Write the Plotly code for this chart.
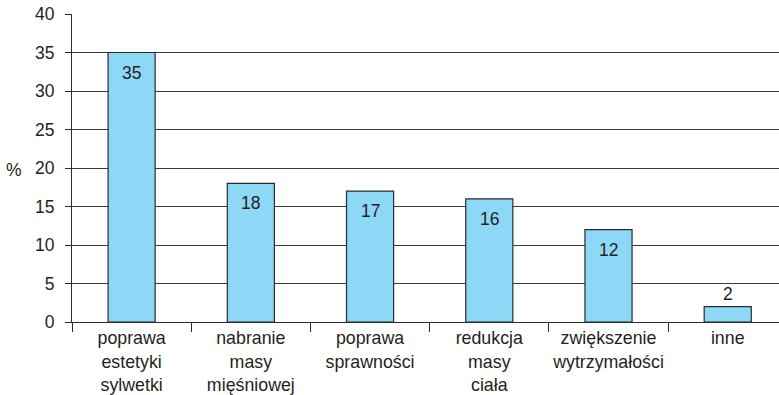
import plotly.graph_objects as go

categories = ["poprawa<br>estetyki<br>sylwetki", "nabranie<br>masy<br>mięśniowej",
              "poprawa<br>sprawności", "redukcja<br>masy<br>ciała",
              "zwiększenie<br>wytrzymałości", "inne"]
values = [35, 18, 17, 16, 12, 2]
y_ticks = [0, 5, 10, 15, 20, 25, 30, 35, 40]

FONT = "Liberation Sans, Arial, sans-serif"
TXT = "#231f20"

fig = go.Figure()
fig.add_trace(go.Bar(
    x=categories, y=values, width=0.395,
    marker=dict(color="#8dd7f7", line=dict(color="#2b2b2b", width=1.2)),
    hoverinfo="skip",
))

annotations = []
for c, v in zip(categories, values):
    inside = v > 5
    annotations.append(dict(x=c, y=v, xref="x", yref="y", text=str(v), showarrow=False,
                            yshift=-20 if inside else 13,
                            font=dict(family=FONT, size=17.5, color=TXT)))
annotations.append(dict(x=-0.082, y=(322 - 170) / 308, xref="paper", yref="paper",
                        text="%", showarrow=False, xanchor="center", yanchor="middle",
                        font=dict(family=FONT, size=17.5, color=TXT)))

fig.update_layout(
    width=779, height=395,
    margin=dict(l=72, r=0, t=14, b=73, autoexpand=False),
    paper_bgcolor="white", plot_bgcolor="white",
    showlegend=False,
    annotations=annotations,
    xaxis=dict(
        range=[-0.5, 5.43],
        automargin=False, tickangle=0,
        showline=True, linecolor="#2b2b2b", linewidth=1.2,
        ticks="outside", tickson="boundaries", ticklen=9, tickcolor="#2b2b2b",
        tickfont=dict(family=FONT, size=17.8, color=TXT),
        showgrid=False, zeroline=False,
    ),
    yaxis=dict(
        range=[0, 40], tickvals=y_ticks,
        automargin=False,
        showline=True, linecolor="#2b2b2b", linewidth=1.2,
        ticks="outside", ticklen=6, tickcolor="#2b2b2b",
        ticklabelstandoff=7,
        tickfont=dict(family=FONT, size=17.5, color=TXT),
        showgrid=True, gridcolor="#3a3a3a", gridwidth=1,
        zeroline=False,
    ),
)

fig.write_html("out.html")
